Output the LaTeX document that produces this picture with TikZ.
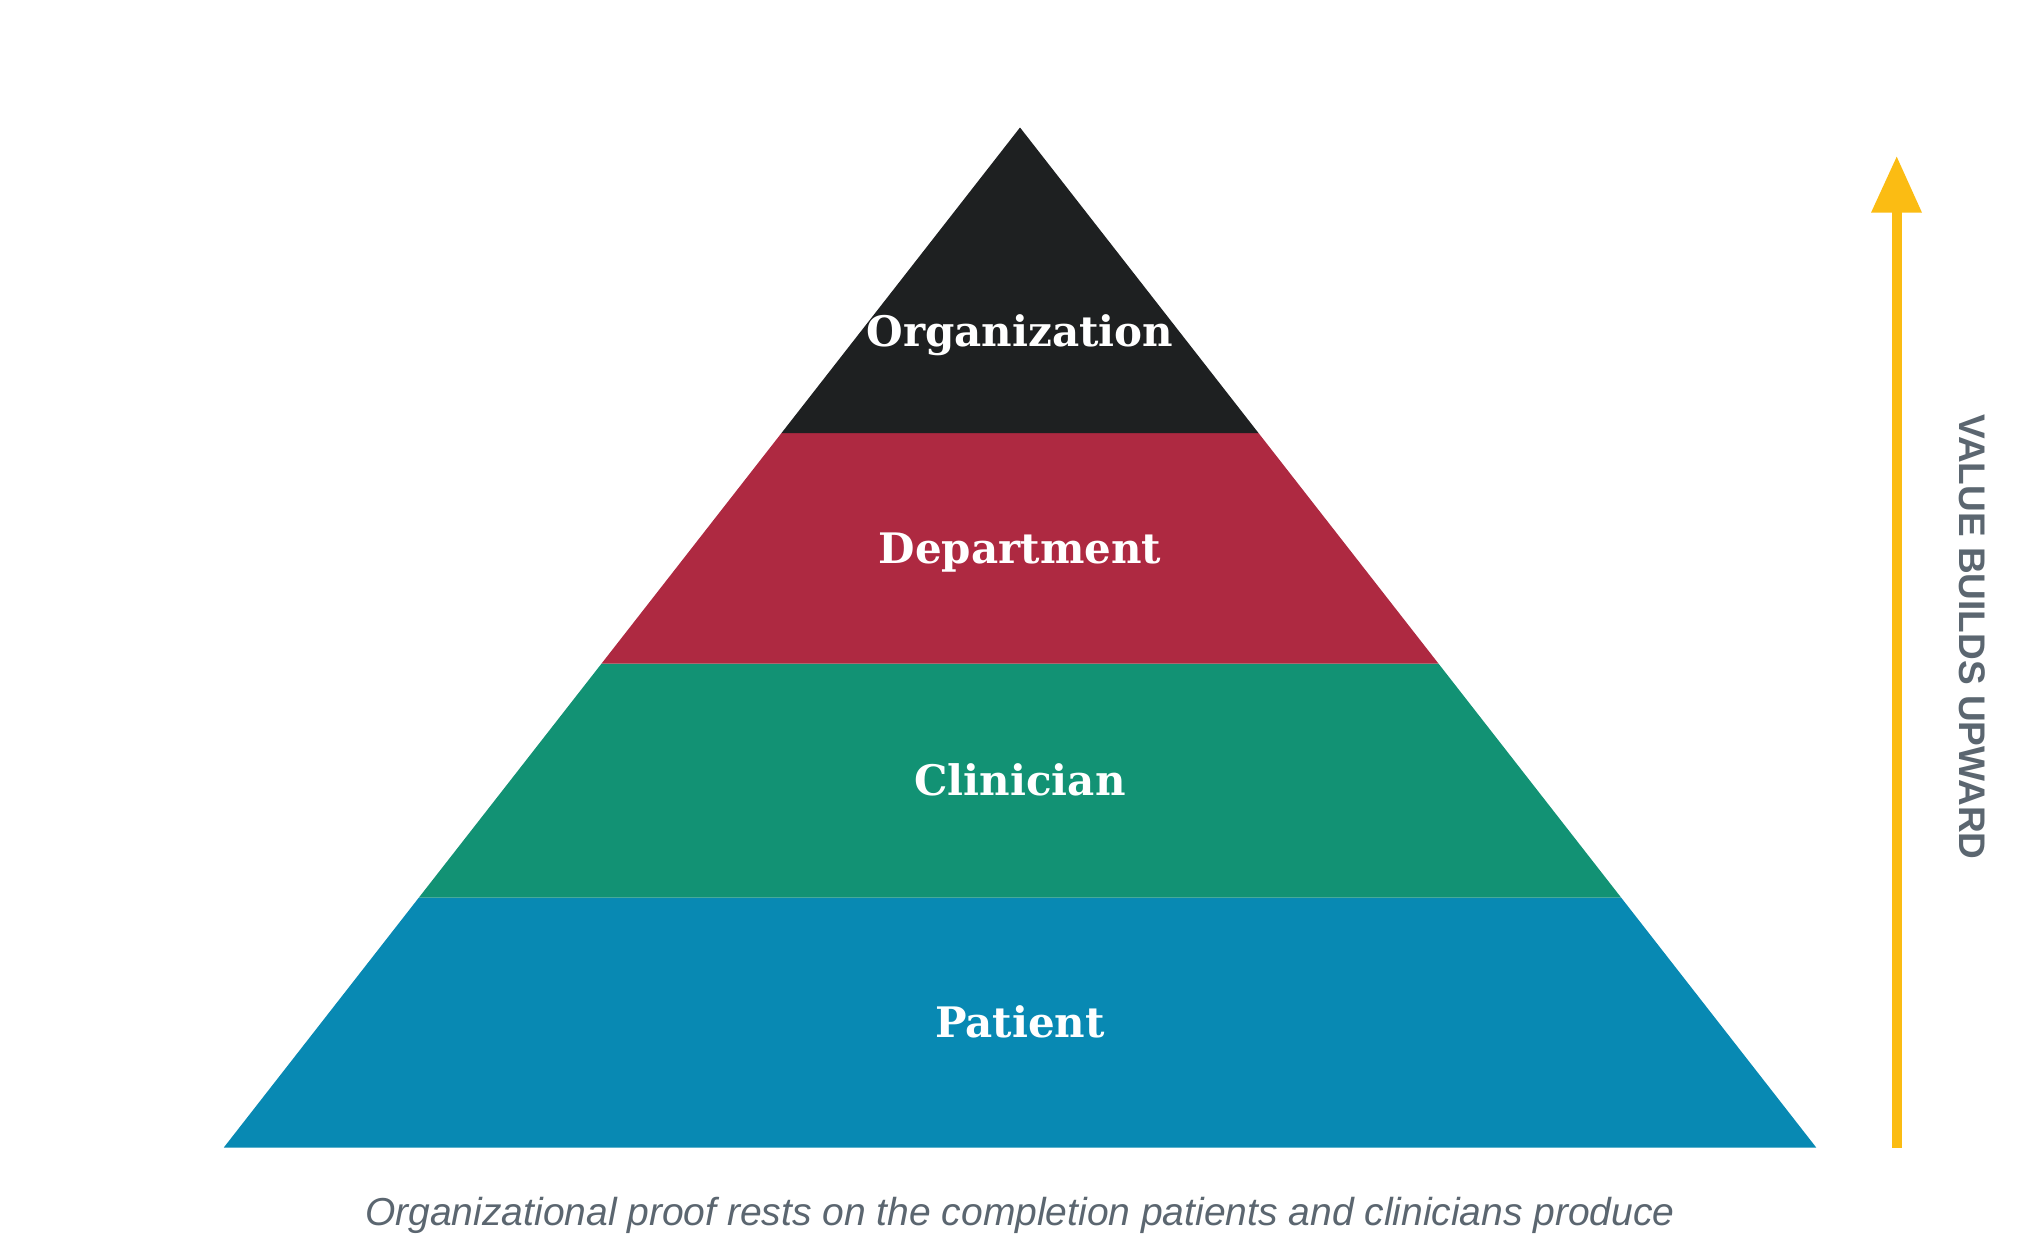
\documentclass[tikz,border=0pt]{standalone}
\usepackage{fontspec}
\setmainfont{DejaVu Serif}
\newfontfamily\sansfont{Liberation Sans}
\definecolor{orgc}{HTML}{1E2021}
\definecolor{depc}{HTML}{AE2941}
\definecolor{clic}{HTML}{129274}
\definecolor{patc}{HTML}{0889B3}
\definecolor{arrc}{HTML}{FBBC13}
\definecolor{txtg}{HTML}{5B6670}
\begin{document}
\begin{tikzpicture}[x=1pt,y=-1pt,
  lbl/.style={text=white,font=\fontsize{42}{48}\selectfont\bfseries,inner sep=0pt},
  sidelbl/.style={text=txtg,font=\sansfont\fontsize{37}{40}\selectfont\bfseries,rotate=-90,inner sep=0pt},
  caplbl/.style={text=txtg,font=\sansfont\itshape\fontsize{39}{42}\selectfont,inner sep=0pt}]
\useasboundingbox[fill=white] (0,0) rectangle (2040,1251);
% pyramid bands
\fill[patc] (223.8,1147.5) -- (1816.2,1147.5) -- ({1020+(897.7-127.5)*0.7806},897.7) -- ({1020-(897.7-127.5)*0.7806},897.7) -- cycle;
\fill[clic] ({1020-(897.7-127.5)*0.7806},897.7) -- ({1020+(897.7-127.5)*0.7806},897.7) -- ({1020+(663.5-127.5)*0.7806},663.5) -- ({1020-(663.5-127.5)*0.7806},663.5) -- cycle;
\fill[depc] ({1020-(663.5-127.5)*0.7806},663.5) -- ({1020+(663.5-127.5)*0.7806},663.5) -- ({1020+(433.2-127.5)*0.7806},433.2) -- ({1020-(433.2-127.5)*0.7806},433.2) -- cycle;
\fill[orgc] ({1020-(433.2-127.5)*0.7806},433.2) -- ({1020+(433.2-127.5)*0.7806},433.2) -- (1020,127.5) -- cycle;
% labels
\node[lbl] (org) at (1020,335) {Organization};
\node[lbl] (dep) at (1020,553) {Department};
\node[lbl] (cli) at (1020,780) {Clinician};
\node[lbl] (pat) at (1020,1022) {Patient};
% arrow
\coordinate (abot) at (1896.7,1147.5);
\coordinate (atop) at (1896.7,210);
\draw[arrc,line width=10pt] (abot) -- (atop);
\fill[arrc] (1871,212.7) -- (1922,212.7) -- (1896.7,156.7) -- cycle;
\node[sidelbl] (side) at (1972.5,637) {VALUE BUILDS UPWARD};
\node[caplbl] (cap) at (1020,1215) {Organizational proof rests on the completion patients and clinicians produce};
\end{tikzpicture}
\end{document}
